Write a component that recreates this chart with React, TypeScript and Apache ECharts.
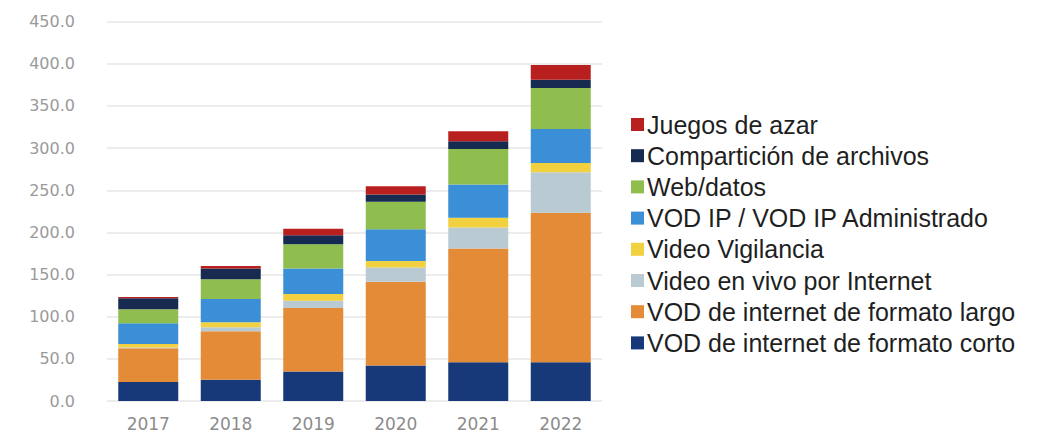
import React, { useEffect, useRef } from "react";
import * as echarts from "echarts";

const years = ["2017", "2018", "2019", "2020", "2021", "2022"];

const corto = [22.5, 25.2, 35.0, 42.1, 46.1, 46.1];
const largo = [40.0, 57.5, 75.3, 99.3, 134.8, 177.3];
const enVivo = [1.0, 4.7, 8.7, 17.0, 24.8, 48.0];
const vigilancia = [4.0, 5.9, 7.9, 7.8, 11.8, 11.1];
const vodIp = [24.8, 27.6, 30.4, 37.5, 39.4, 40.2];
const web = [16.5, 23.6, 28.7, 32.7, 42.2, 48.5];
const comparticion = [13.0, 12.6, 10.6, 8.7, 9.0, 9.8];
const juegos = [1.5, 3.1, 7.9, 9.8, 11.8, 17.7];

const yTicks = [0, 50, 100, 150, 200, 250, 300, 350, 400, 450];

const seriesDefs = [
  { name: "VOD de internet de formato corto", data: corto, color: "#17397a" },
  { name: "VOD de internet de formato largo", data: largo, color: "#e38b36" },
  { name: "Video en vivo por Internet", data: enVivo, color: "#b9cad3" },
  { name: "Video Vigilancia", data: vigilancia, color: "#f1d13f" },
  { name: "VOD IP / VOD IP Administrado", data: vodIp, color: "#3a8fd6" },
  { name: "Web/datos", data: web, color: "#8fbe4f" },
  { name: "Compartición de archivos", data: comparticion, color: "#172a4f" },
  { name: "Juegos de azar", data: juegos, color: "#b7201f" },
];

export default function App() {
  const ref = useRef<HTMLDivElement>(null);
  useEffect(() => {
    if (!ref.current) return;
    const chart = echarts.init(ref.current, null, { renderer: "svg" });
    chart.setOption({
      animation: false,
      backgroundColor: "#ffffff",
      grid: { left: 107, right: 435, top: 21.7, bottom: 432 - 402.3 },
      legend: {
        orient: "vertical",
        left: 626,
        top: 107,
        itemWidth: 13,
        itemHeight: 13,
        itemGap: 6.2,
        icon: "rect",
        data: seriesDefs.map((s) => s.name).reverse(),
        textStyle: {
          fontFamily: "Liberation Sans, Arial, sans-serif",
          fontSize: 25,
          lineHeight: 24,
          color: "#1f1f1f",
          padding: [0, 0, 0, -2],
        },
      },
      xAxis: {
        type: "category",
        data: years,
        axisLine: { show: false },
        axisTick: { show: false },
        axisLabel: {
          color: "#8c8c8c",
          fontFamily: "DejaVu Sans, sans-serif",
          fontSize: 17,
          margin: 14,
        },
      },
      yAxis: {
        type: "value",
        min: 0,
        max: 450,
        interval: 50,
        axisLine: { show: false },
        axisTick: { show: false },
        splitLine: { lineStyle: { color: "#e6e6e6", width: 1.5 } },
        axisLabel: {
          color: "#9a9a9a",
          fontFamily: "DejaVu Sans, sans-serif",
          fontSize: 16,
          margin: 32,
          formatter: (v: number) => (yTicks.includes(v) ? v.toFixed(1) : ""),
        },
      },
      series: seriesDefs.map((s) => ({
        name: s.name,
        type: "bar",
        stack: "total",
        barWidth: 60,
        data: s.data,
        itemStyle: { color: s.color },
      })),
    });
    return () => chart.dispose();
  }, []);
  return <div ref={ref} style={{ width: 1037, height: 432, position: "absolute", left: 0, top: 0 }} />;
}
